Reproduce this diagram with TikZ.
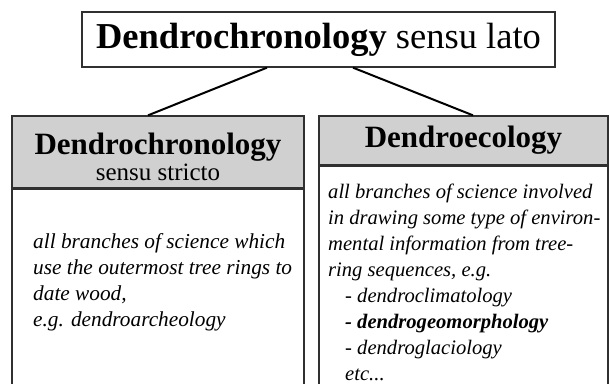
\documentclass[tikz,border=0pt]{standalone}
\usepackage{fontspec}
\setmainfont{Liberation Serif}
\usetikzlibrary{calc}
\definecolor{headgray}{HTML}{D0D0D0}
\definecolor{framecol}{HTML}{303030}
\begin{document}
\begin{tikzpicture}[x=1pt,y=1pt,
  frame/.style={draw=framecol, line width=1.3pt, inner sep=0pt},
  head/.style={frame, fill=headgray, align=center},
  link/.style={draw=black, line width=2pt},
  bodytext/.style={align=left, inner sep=0pt, anchor=north west,
    font=\fontsize{21.3}{26.2}\selectfont\itshape}
]
\clip (0,0) rectangle (610,383);
\node[frame, minimum width=473pt, minimum height=55pt] (top) at (318.5,343.5)
  {\raisebox{-3pt}{\fontsize{36.5}{40}\selectfont\textbf{Dendrochronology} sensu lato}};
\node[head, minimum width=292pt, minimum height=72pt] (lh) at (158,231)
  {\fontsize{31}{29}\selectfont\rule{0pt}{31pt}\textbf{Dendrochronology}\\[1pt]
   \fontsize{25}{29}\selectfont sensu stricto};
\node[frame, minimum width=292pt, minimum height=260pt, anchor=north] (lb) at (lh.south) {};
\node[head, minimum width=289pt, minimum height=49pt] (rh) at (463.5,242.5)
  {\raisebox{-4pt}{\fontsize{31}{36}\selectfont\textbf{Dendroecology}}};
\node[frame, minimum width=289pt, minimum height=260pt, anchor=north] (rb) at (rh.south) {};
\node[bodytext] (lt) at (33,150)
  {all branches of science which\\
   use the outermost tree rings to\\
   date wood,\\
   e.g. dendroarcheology};
\node[bodytext, font=\fontsize{20.6}{26}\selectfont\itshape] (rt) at (328,199.5)
  {all branches of science involved\\
   in drawing some type of environ-\\
   mental information from tree-\\
   ring sequences, e.g.\\
   \hspace*{17pt}- dendroclimatology\\
   \hspace*{17pt}\textbf{- dendrogeomorphology}\\
   \hspace*{17pt}- dendroglaciology\\
   \hspace*{17pt}etc...};
\draw[link] ($(top.south)+(-51.5,0)$) -- ($(lh.north)+(-10,0)$);
\draw[link] ($(top.south)+(34.5,0)$) -- ($(rh.north)+(9.5,0)$);
\end{tikzpicture}
\end{document}
